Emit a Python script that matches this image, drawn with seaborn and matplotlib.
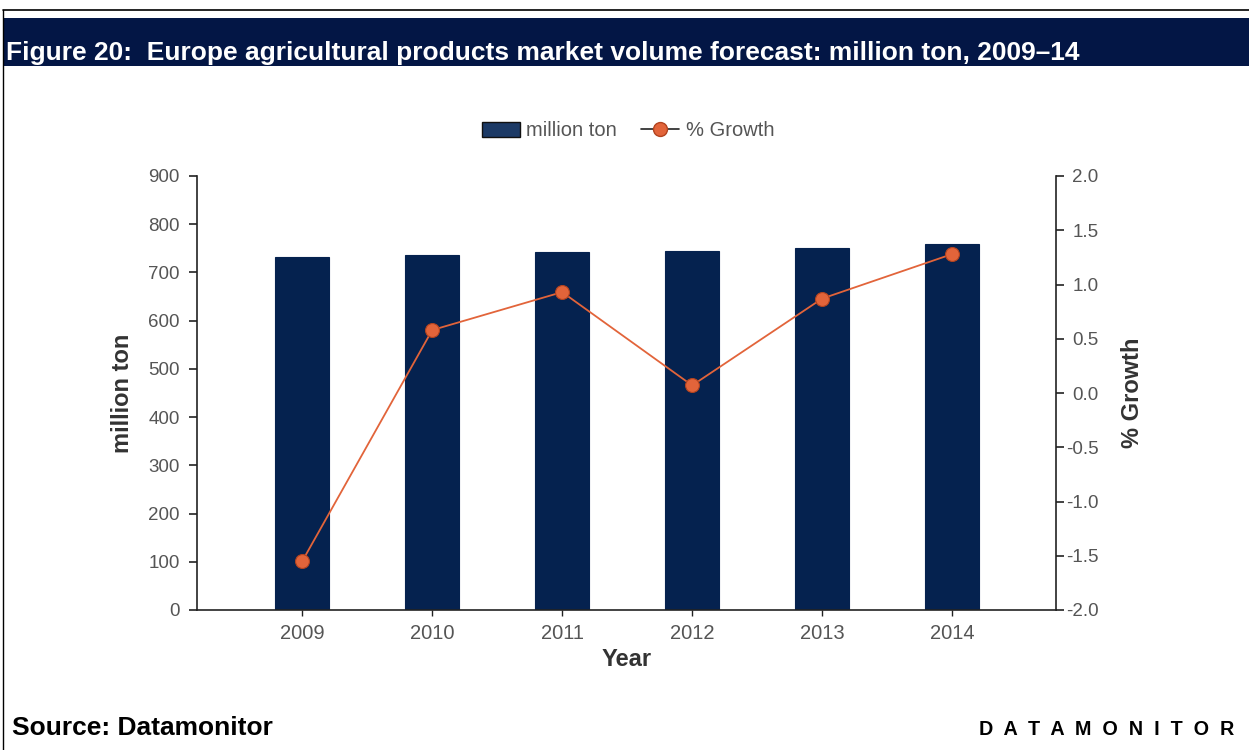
import matplotlib
matplotlib.use("Agg")
import matplotlib.pyplot as plt
from matplotlib.patches import Rectangle, Patch
from matplotlib.lines import Line2D
import seaborn as sns
import pandas as pd

# Data
years = ["2009", "2010", "2011", "2012", "2013", "2014"]
volume = [732.0, 736.3, 743.2, 743.7, 750.2, 759.8]          # million ton
growth = [-1.55, 0.58, 0.93, 0.07, 0.87, 1.28]                # % growth

title = "Figure 20:  Europe agricultural products market volume forecast: million ton, 2009\u201314"
navy = "#05224f"
orange = "#e2643a"
tick_grey = "#555555"
label_grey = "#333333"

sns.set_theme(style="white")
plt.rcParams["font.family"] = ["Liberation Sans", "DejaVu Sans"]

W, H = 1249, 750
fig = plt.figure(figsize=(W / 100, H / 100), dpi=100)
fig.patch.set_facecolor("white")

def fx(px):
    return px / W

def fy(py):
    return 1 - py / H

# Frame and title band
fig.add_artist(Line2D([fx(3), 1], [fy(10), fy(10)], color="black", lw=1.2, transform=fig.transFigure))
fig.add_artist(Line2D([fx(3), fx(3)], [fy(10), 0], color="black", lw=1.0, transform=fig.transFigure))
fig.add_artist(Rectangle((fx(4), fy(66)), 1 - fx(4), fy(18) - fy(66), transform=fig.transFigure,
                         facecolor="#031645", edgecolor="none"))
fig.text(fx(6), fy(60), title, color="white", fontsize=19, fontweight="bold",
         va="baseline", ha="left")

# Main axes
ax = fig.add_axes([fx(197), fy(610), fx(1056) - fx(197), fy(176) - fy(610)])
df = pd.DataFrame({"Year": years, "million ton": volume, "% Growth": growth})
sns.barplot(data=df, x="Year", y="million ton", color=navy, width=0.415,
            saturation=1, ax=ax, edgecolor=navy, linewidth=0.8)
ax.set_xlim(-0.81, 5.8)
ax.set_ylim(0, 900)
ax.set_yticks(range(0, 901, 100))
ax.tick_params(axis="y", direction="out", length=5.5, width=1.2, color="#222222",
               labelsize=13.5, labelcolor=tick_grey, left=True, pad=7)
ax.tick_params(axis="x", direction="out", length=4, width=1.0, color="#222222",
               labelsize=14.5, labelcolor=tick_grey, bottom=True, pad=6)
ax.set_xlabel("Year", fontsize=17, fontweight="bold", color=label_grey, labelpad=4)
ax.set_ylabel("million ton", fontsize=17, fontweight="bold", color=label_grey, labelpad=10)
for side in ["left", "bottom"]:
    ax.spines[side].set_color("#222222")
    ax.spines[side].set_linewidth(1.2)
ax.spines["top"].set_visible(False)
ax.spines["right"].set_visible(False)

# Growth line on secondary axis
ax2 = ax.twinx()
sns.pointplot(data=df, x="Year", y="% Growth", color=orange, markers="o", linestyles="-",
              ax=ax2, markersize=10, linewidth=1.3,
              markeredgecolor="#b2431f", markeredgewidth=0.8)
ax2.set_xlim(-0.81, 5.8)
ax2.set_ylim(-2.0, 2.0)
ax2.set_yticks([-2.0, -1.5, -1.0, -0.5, 0.0, 0.5, 1.0, 1.5, 2.0])
ax2.set_yticklabels([f"{v:.1f}" for v in ax2.get_yticks()])
ax2.tick_params(axis="y", direction="out", length=5.5, width=1.2, color="#222222",
                labelsize=13.5, labelcolor=tick_grey, right=True, pad=25)
for lbl in ax2.get_yticklabels():
    lbl.set_horizontalalignment("right")
ax2.set_ylabel("% Growth", fontsize=17, fontweight="bold", color=label_grey, labelpad=16)
ax2.spines["right"].set_color("#222222")
ax2.spines["right"].set_linewidth(1.2)
for side in ["top", "left", "bottom"]:
    ax2.spines[side].set_visible(False)
ax2.set_xlabel("")
ax2.tick_params(axis="x", bottom=False, labelbottom=False)

# Legend
handles = [
    Patch(facecolor="#1c3a66", edgecolor="#111111", linewidth=1.0, label="million ton"),
    Line2D([0], [0], color="#222222", lw=1.2, marker="o", markersize=10,
           markerfacecolor=orange, markeredgecolor="#b2431f", label="% Growth"),
]
fig.legend(handles=handles, loc="center", bbox_to_anchor=(fx(628), fy(131)), ncol=2,
           frameon=False, fontsize=14.5, labelcolor=tick_grey, handlelength=1.9,
           handleheight=0.7, handletextpad=0.3, columnspacing=1.2)

# Footer
fig.text(fx(12), fy(735), "Source: Datamonitor", fontsize=19, fontweight="bold",
         color="black", va="baseline", ha="left")
fig.text(fx(979), fy(735), "  ".join("DATAMONITOR"), fontsize=14.2, fontweight="bold",
         color="black", va="baseline", ha="left")

fig.savefig("out.png", dpi=100, facecolor="white")
